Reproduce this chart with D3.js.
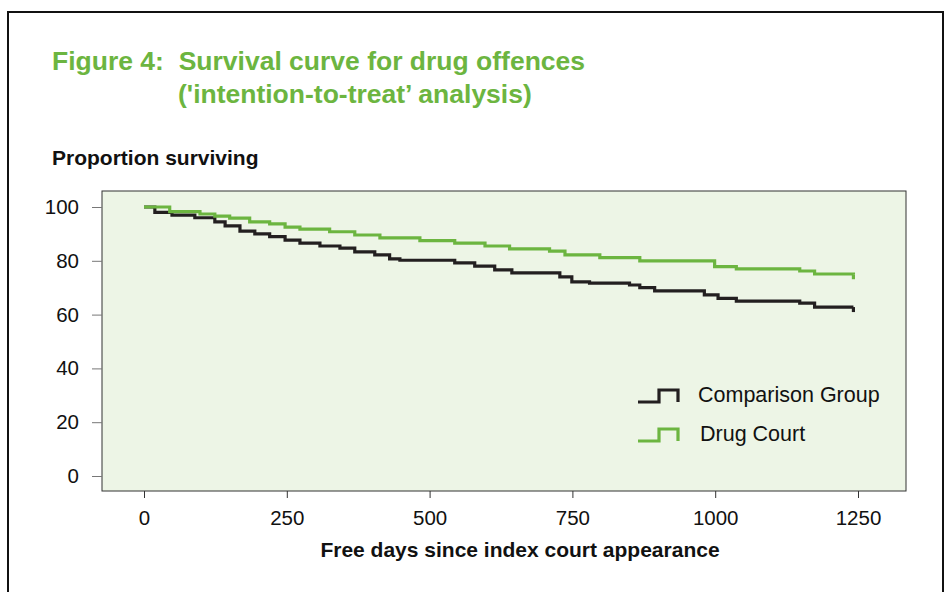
<!DOCTYPE html>
<html>
<head>
<meta charset="utf-8">
<script src="https://cdnjs.cloudflare.com/ajax/libs/d3/7.8.5/d3.min.js"></script>
<style>
  body { margin: 0; background: #fff; }
  svg { display: block; font-family: "Liberation Sans", Arial, sans-serif; }
</style>
</head>
<body>
<div id="chart"></div>
<script>
// survival steps (days, % surviving)
let compDays = [0, 19, 49, 89, 124, 142, 168, 194, 220, 247, 273, 308, 343, 369, 404, 430, 448, 544, 579, 614, 644, 707, 728, 749, 780, 850, 868, 894, 964, 981, 1005, 1037, 1148, 1174, 1242];
let compVals = [100, 98, 97, 96, 94.5, 93, 91, 90, 89, 87.7, 86.6, 85.5, 84.7, 83.3, 82.2, 80.7, 80.2, 79.2, 78, 76.6, 75.5, 75.5, 74, 72.2, 71.7, 71, 70, 68.8, 68.8, 67.3, 66, 65, 64.3, 62.8, 62.8];
let courtDays = [0, 45, 98, 124, 150, 185, 220, 247, 273, 325, 369, 413, 483, 544, 597, 640, 710, 737, 798, 868, 973, 999, 1037, 1148, 1174, 1242];
let courtVals = [100, 98.3, 97.4, 96.6, 95.9, 94.5, 93.7, 92.5, 91.8, 90.8, 89.6, 88.5, 87.5, 86.6, 85.5, 84.4, 83.6, 82.2, 81.2, 80, 80, 77.8, 77, 76.2, 75.1, 75];
let xTicks = [0, 250, 500, 750, 1000, 1250];
let yTicks = [0, 20, 40, 60, 80, 100];
let seriesNames = ["Comparison Group", "Drug Court"];
let seriesColors = ["#231f20", "#6cb540"];

let W = 948, H = 592;
let svg = d3.select("#chart").append("svg").attr("width", W).attr("height", H);

// outer frame
svg.append("rect").attr("x", 8).attr("y", 12).attr("width", 935).attr("height", 620)
    .attr("fill", "none").attr("stroke", "#111").attr("stroke-width", 2);

// title
let green = "#6cb540";
svg.append("text").attr("x", 52).attr("y", 70).attr("fill", green)
    .attr("font-size", 26.5).attr("font-weight", "bold").style("white-space", "pre")
    .text("Figure 4:  Survival curve for drug offences");
svg.append("text").attr("x", 178).attr("y", 103).attr("fill", green)
    .attr("font-size", 26.5).attr("font-weight", "bold").text("('intention-to-treat\u2019 analysis)");

svg.append("text").attr("x", 52).attr("y", 165).attr("fill", "#111")
    .attr("font-size", 21).attr("font-weight", "bold").text("Proportion surviving");

let plot = {left: 102, right: 906, top: 191, bottom: 491};
let x = d3.scaleLinear().domain([0, 1250]).range([144, 858]);
let y = d3.scaleLinear().domain([0, 100]).range([476, 207]);

svg.append("rect").attr("x", plot.left).attr("y", plot.top)
    .attr("width", plot.right - plot.left).attr("height", plot.bottom - plot.top)
    .attr("fill", "#edf5e6").attr("stroke", "#333").attr("stroke-width", 1);

// y axis
let yAxis = d3.axisLeft(y).tickValues(yTicks).tickSize(10).tickPadding(13);
let gy = svg.append("g").attr("transform", "translate(" + plot.left + ",0)").call(yAxis);
gy.select(".domain").remove();
gy.selectAll("line").attr("stroke", "#777");
gy.selectAll("text").attr("font-size", 20.5).attr("fill", "#111").attr("font-family", "Liberation Sans, Arial, sans-serif");

// x axis
let xAxis = d3.axisBottom(x).tickValues(xTicks).tickFormat(d3.format("d")).tickSize(7).tickPadding(12);
let gx = svg.append("g").attr("transform", "translate(0," + plot.bottom + ")").call(xAxis);
gx.select(".domain").remove();
gx.selectAll("line").attr("stroke", "#333");
gx.selectAll("text").attr("font-size", 20.5).attr("fill", "#111").attr("font-family", "Liberation Sans, Arial, sans-serif");

svg.append("text").attr("x", 520).attr("y", 557).attr("text-anchor", "middle")
    .attr("font-size", 21).attr("font-weight", "bold").attr("fill", "#111")
    .text("Free days since index court appearance");

// curves
let line = d3.line().x(function(d) { return x(d[0]); }).y(function(d) { return y(d[1]); }).curve(d3.curveStepAfter);
let series = [d3.zip(compDays, compVals), d3.zip(courtDays, courtVals)];
series.forEach(function(pts, i) {
    svg.append("path").attr("d", line(pts)).attr("fill", "none")
        .attr("stroke", seriesColors[i]).attr("stroke-width", 3.2);
    // little censoring tick at the end
    let last = pts[pts.length - 1];
    svg.append("line").attr("x1", x(last[0])).attr("x2", x(last[0]))
        .attr("y1", y(last[1])).attr("y2", y(last[1]) + 5)
        .attr("stroke", seriesColors[i]).attr("stroke-width", 3.2);
});

// legend
let legendY = [396, 435];
seriesNames.forEach(function(name, i) {
    let cy = legendY[i];
    let pts = [[638, cy + 6], [659, cy + 6], [659, cy - 6], [678, cy - 6], [678, cy + 6]];
    svg.append("path").attr("d", d3.line()(pts)).attr("fill", "none")
        .attr("stroke", seriesColors[i]).attr("stroke-width", 3.2);
    svg.append("text").attr("x", i == 0 ? 698 : 700).attr("y", cy + 6)
        .attr("font-size", 21.5).attr("fill", "#111").text(name);
});
</script>
</body>
</html>
